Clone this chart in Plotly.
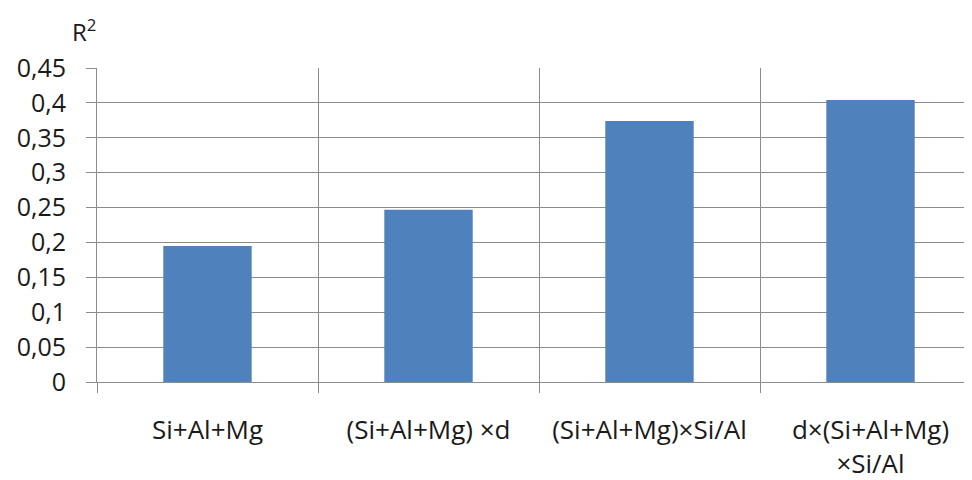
import plotly.graph_objects as go

categories = ["Si+Al+Mg", "(Si+Al+Mg) ×d", "(Si+Al+Mg)×Si/Al", "d×(Si+Al+Mg)<br>×Si/Al"]
r2_values = [0.195, 0.247, 0.374, 0.404]
y_tick_vals = [0, 0.05, 0.1, 0.15, 0.2, 0.25, 0.3, 0.35, 0.4, 0.45]
y_tick_text = ["0", "0,05", "0,1", "0,15", "0,2", "0,25", "0,3", "0,35", "0,4", "0,45"]

# page has an 8px body margin, so the figure is sized to fit 972x480 visually
W, H = 964, 472
L, R, T, B = 89, 0, 60, 98
cat_px = 221.0
plot_w = W - L - R

fig = go.Figure(go.Bar(
    x=categories,
    y=r2_values,
    width=0.4,
    marker=dict(color="#4F81BD", line=dict(width=0)),
))

font_family = "'Open Sans', sans-serif"
grid_col = "#8c8c8c"
txt_col = "#1a1a1a"

fig.update_layout(
    width=W, height=H,
    margin=dict(l=L, r=R, t=T, b=B),
    paper_bgcolor="white", plot_bgcolor="white",
    showlegend=False,
    font=dict(family=font_family, color=txt_col, size=20),
    xaxis=dict(
        type="category",
        categoryorder="array", categoryarray=categories,
        range=[-0.5, -0.5 + plot_w / cat_px],
        tickson="boundaries",
        ticks="outside", ticklen=10, tickcolor=grid_col, tickwidth=1,
        showgrid=True, gridcolor=grid_col, gridwidth=1,
        showline=True, linecolor=grid_col, linewidth=1,
        zeroline=False,
        tickfont=dict(size=26, family=font_family, color=txt_col),
        ticklabelstandoff=25,
        automargin=False,
        fixedrange=True,
    ),
    yaxis=dict(
        range=[0, 0.45],
        tickmode="array",
        tickvals=y_tick_vals,
        ticktext=y_tick_text,
        ticks="outside", ticklen=10, tickcolor=grid_col, tickwidth=1,
        showgrid=True, gridcolor=grid_col, gridwidth=1,
        showline=True, linecolor=grid_col, linewidth=1,
        zeroline=False,
        tickfont=dict(size=25, family=font_family, color=txt_col),
        ticklabelstandoff=15,
        automargin=False,
        fixedrange=True,
    ),
    annotations=[dict(
        text="R<sup>2</sup>", xref="paper", yref="paper",
        x=-27 / plot_w, y=1 + 38 / (H - T - B),
        xanchor="left", yanchor="middle", showarrow=False,
        font=dict(size=24, color=txt_col, family=font_family),
    )],
)

fig.write_html("out.html")
